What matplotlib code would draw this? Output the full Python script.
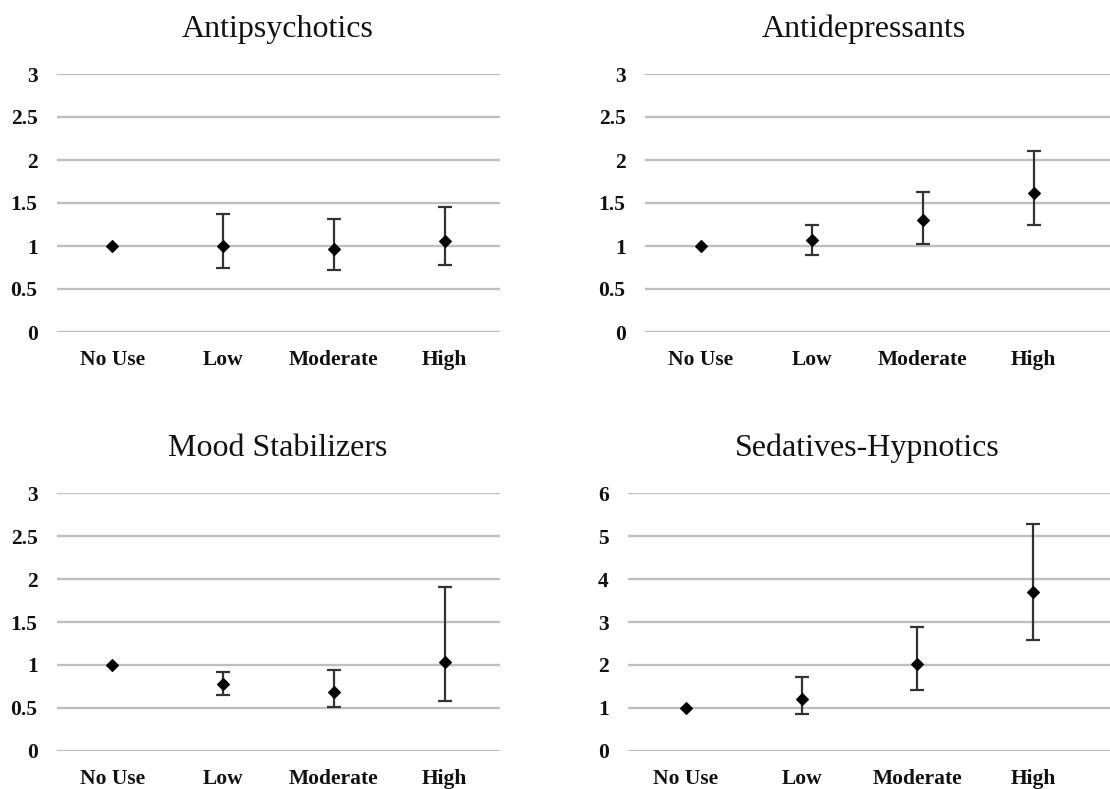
import matplotlib
matplotlib.use("Agg")
import matplotlib.pyplot as plt
import numpy as np

categories = ["No Use", "Low", "Moderate", "High"]

titles = ["Antipsychotics", "Antidepressants", "Mood Stabilizers", "Sedatives-Hypnotics"]

antipsychotics_or = [1.00, 1.00, 0.96, 1.06]
antipsychotics_lo = [1.00, 0.74, 0.72, 0.78]
antipsychotics_hi = [1.00, 1.37, 1.31, 1.455]

antidepressants_or = [1.00, 1.07, 1.30, 1.62]
antidepressants_lo = [1.00, 0.89, 1.02, 1.24]
antidepressants_hi = [1.00, 1.25, 1.63, 2.10]

mood_or = [1.00, 0.78, 0.68, 1.03]
mood_lo = [1.00, 0.645, 0.505, 0.575]
mood_hi = [1.00, 0.913, 0.937, 1.91]

sedatives_or = [1.00, 1.20, 2.01, 3.69]
sedatives_lo = [1.00, 0.86, 1.41, 2.59]
sedatives_hi = [1.00, 1.725, 2.88, 5.28]

yticks_small = [0, 0.5, 1, 1.5, 2, 2.5, 3]
yticklabels_small = ["0", "0.5", "1", "1.5", "2", "2.5", "3"]
yticks_sed = [0, 1, 2, 3, 4, 5, 6]
yticklabels_sed = ["0", "1", "2", "3", "4", "5", "6"]

W, H = 1110, 789
fig = plt.figure(figsize=(W / 100, H / 100), dpi=100)

panels = [
    dict(l=57, r=500, t=74, b=332, step=110.75, tx=278, ty=37,
         vals=(antipsychotics_or, antipsychotics_lo, antipsychotics_hi),
         yt=yticks_small, ytl=yticklabels_small, ymax=3),
    dict(l=645, r=1110, t=74, b=332, step=111.0, tx=864, ty=37,
         vals=(antidepressants_or, antidepressants_lo, antidepressants_hi),
         yt=yticks_small, ytl=yticklabels_small, ymax=3),
    dict(l=57, r=500, t=493.3, b=750.7, step=110.75, tx=278, ty=456,
         vals=(mood_or, mood_lo, mood_hi),
         yt=yticks_small, ytl=yticklabels_small, ymax=3),
    dict(l=628, r=1110, t=493.3, b=750.7, step=115.7, tx=867, ty=456,
         vals=(sedatives_or, sedatives_lo, sedatives_hi),
         yt=yticks_sed, ytl=yticklabels_sed, ymax=6),
]

serif = ["Liberation Serif", "DejaVu Serif"]

for p, title in zip(panels, titles):
    ax = fig.add_axes([p["l"] / W, 1 - p["b"] / H, (p["r"] - p["l"]) / W, (p["b"] - p["t"]) / H])
    orv, lo, hi = p["vals"]
    x = np.arange(len(categories))
    orv = np.array(orv); lo = np.array(lo); hi = np.array(hi)
    yerr = np.vstack([orv - lo, hi - orv])
    mask = np.array([False] + [True] * (len(categories) - 1))
    ax.errorbar(x[mask], orv[mask], yerr=yerr[:, mask], fmt="none", ecolor="#333333",
                elinewidth=1.6, capsize=4.8, capthick=1.6, zorder=3)
    ax.plot(x, orv, linestyle="none", marker="D", markersize=6.3, color="black",
            markeredgewidth=0.8, zorder=4)
    xmax = -0.5 + (p["r"] - p["l"]) / p["step"]
    ax.set_xlim(-0.5, xmax)
    ax.set_ylim(0, p["ymax"])
    ax.set_xticks(x)
    ax.set_xticklabels(categories, fontfamily=serif, fontweight="bold", fontsize=15.5,
                       color="#111111")
    ax.set_yticks(p["yt"])
    ax.set_yticklabels(p["ytl"], fontfamily=serif, fontweight="bold", fontsize=15.5,
                       color="#111111")
    ax.tick_params(axis="both", length=0)
    ax.tick_params(axis="y", pad=14)
    ax.tick_params(axis="x", pad=13)
    ax.grid(axis="y", color="#bfbfbf", linewidth=1.7)
    ax.set_axisbelow(True)
    for s in ax.spines.values():
        s.set_visible(False)
    fig.text(p["tx"] / W, 1 - p["ty"] / H, title, ha="center", va="baseline",
             fontfamily=serif, fontsize=23, color="#111111")

fig.savefig("out.png", dpi=100)
